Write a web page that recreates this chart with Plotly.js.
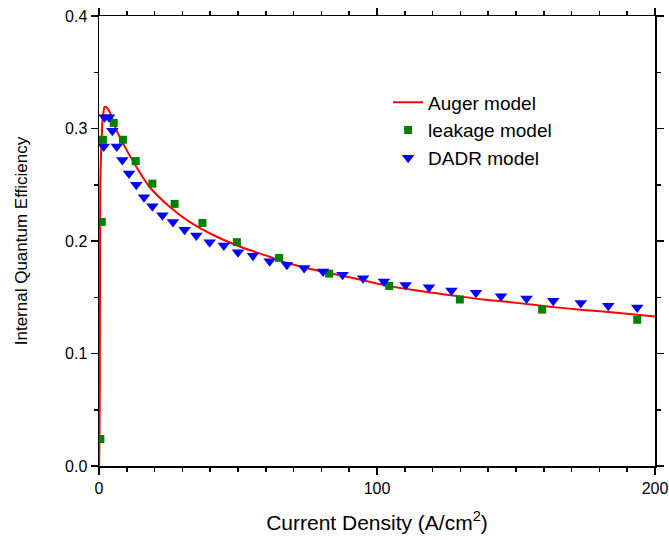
<!DOCTYPE html>
<html>
<head>
<meta charset="utf-8">
<script src="https://cdn.plot.ly/plotly-3.0.1.min.js"></script>
<style>body{margin:0;padding:0;background:#fff;}#chart{width:669px;height:540px;}</style>
</head>
<body>
<div id="chart"></div>
<script>
const augerX = [0.05, 0.2, 0.3, 0.45, 0.7, 0.95, 1.2, 1.6, 2.0, 2.6, 3.8, 6.2, 8.6, 13.4, 18.2, 25.4, 32.6, 42.2, 51.8, 61.4, 66.2, 78.2, 90.2, 102.2, 114.2, 126.2, 138.2, 150.2, 162.2, 174.2, 186.2, 200];
const augerY = [0.0, 0.03, 0.08, 0.245, 0.275, 0.29, 0.305, 0.314, 0.319, 0.319, 0.315, 0.299, 0.287, 0.266, 0.248, 0.2305, 0.217, 0.204, 0.194, 0.186, 0.1816, 0.174, 0.1677, 0.161, 0.156, 0.152, 0.148, 0.145, 0.1416, 0.1387, 0.1363, 0.133];

const leakX = [0.5, 1.0, 1.4, 5.3, 8.6, 13.2, 19.2, 27.2, 37.2, 49.6, 64.8, 82.8, 104.4, 129.8, 159.4, 193.6];
const leakY = [0.024, 0.217, 0.290, 0.305, 0.290, 0.271, 0.251, 0.233, 0.216, 0.199, 0.185, 0.171, 0.160, 0.148, 0.139, 0.130];

const dadrX = [1.7, 2.0, 3.6, 4.8, 6.4, 8.4, 10.8, 13.4, 16.2, 19.2, 22.8, 26.6, 30.8, 35.0, 39.8, 44.9, 50.0, 55.4, 61.4, 67.6, 73.8, 80.6, 87.6, 95.0, 102.5, 110.3, 118.7, 126.8, 135.6, 144.6, 153.8, 163.4, 173.3, 183.2, 193.6];
const dadrY = [0.284, 0.310, 0.310, 0.298, 0.284, 0.272, 0.260, 0.250, 0.239, 0.231, 0.223, 0.217, 0.210, 0.205, 0.199, 0.196, 0.190, 0.187, 0.182, 0.179, 0.176, 0.173, 0.170, 0.167, 0.164, 0.161, 0.159, 0.156, 0.154, 0.151, 0.149, 0.147, 0.145, 0.1425, 0.141];

const xTicks = [0, 100, 200];
const yTicks = [0.0, 0.1, 0.2, 0.3, 0.4];

const font = "Liberation Sans, Arial, sans-serif";

const traces = [
  {x: augerX, y: augerY, name: "Auger model", mode: "lines", type: "scatter",
   line: {color: "#ff0000", width: 2, shape: "spline", smoothing: 0.6}},
  {x: leakX, y: leakY, name: "leakage model", mode: "markers", type: "scatter",
   marker: {symbol: "square", color: "#008000", size: 8}},
  {x: dadrX, y: dadrY, name: "DADR model", mode: "markers", type: "scatter",
   marker: {symbol: "triangle-down", color: "#0000ff", size: 11}}
];

const axisCommon = {
  showline: true, linecolor: "#000", linewidth: 1.5, mirror: "ticks",
  ticks: "outside", ticklen: 7, tickwidth: 1.5, tickcolor: "#000",
  showgrid: false, zeroline: false,
  tickfont: {family: font, size: 16, color: "#000"}
};

const layout = {
  width: 669, height: 540,
  margin: {l: 99, r: 14, t: 16, b: 74},
  paper_bgcolor: "#fff", plot_bgcolor: "#fff",
  font: {family: font, color: "#000"},
  showlegend: true,
  legend: {x: 0.52, y: 0.85, xanchor: "left", yanchor: "top",
           bgcolor: "rgba(0,0,0,0)", font: {family: font, size: 19, color: "#000"},
           tracegroupgap: 0},
  xaxis: Object.assign({}, axisCommon, {
    range: [0, 200], tickvals: xTicks, ticktext: xTicks.map(String),
    minor: {dtick: 10, ticklen: 4, tickwidth: 1.5, tickcolor: "#000", ticks: "outside"},
    title: {text: "Current Density (A/cm<sup>2</sup>)", font: {family: font, size: 21}, standoff: 19}
  }),
  yaxis: Object.assign({}, axisCommon, {
    range: [0, 0.4], tickvals: yTicks, ticktext: yTicks.map(v => v.toFixed(1)),
    minor: {dtick: 0.05, ticklen: 4, tickwidth: 1.5, tickcolor: "#000", ticks: "outside"},
    title: {text: "Internal Quantum Efficiency", font: {family: font, size: 17}, standoff: 33}
  })
};

Plotly.newPlot("chart", traces, layout, {displayModeBar: false, staticPlot: true});
</script>
</body>
</html>
